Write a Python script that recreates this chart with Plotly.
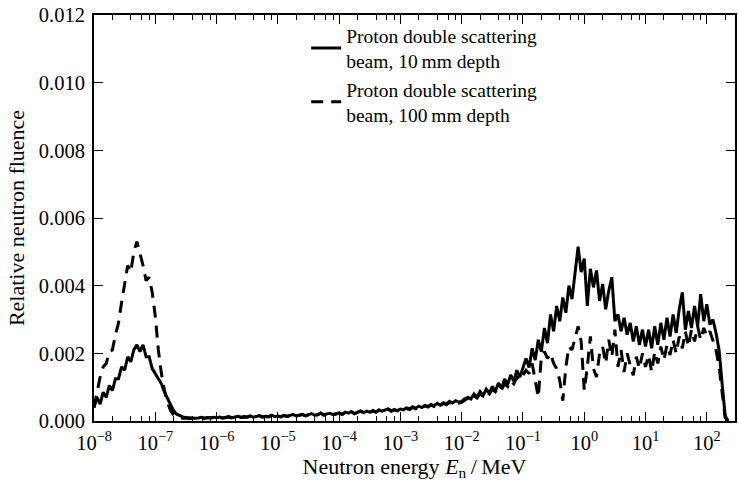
import numpy as np
import plotly.graph_objects as go

# Energy bins: log10(E/MeV) starting value and bin width (lethargy bins)
log_e_start = -8.0
log_e_step = 0.05

# Relative neutron fluence, in units of 1e-4, per bin
fluence_10mm = [
    # 1e-8 .. 1e-7
    4, 7, 5, 8.5, 7, 10.5, 9, 12.5, 12.5, 16, 15, 19, 17.5, 21, 22.5, 20.5, 22.5, 19, 19, 15.5,
    # 1e-7 .. 1e-6
    14, 12.5, 11, 8.5, 6.5, 4.5, 3, 2, 1.5, 1.2, 1.0, 0.9, 1.0, 0.8, 0.9, 1.1, 0.8, 1.0, 0.9, 1.1,
    # 1e-6 .. 1e-5
    1.0, 1.2, 0.9, 1.1, 1.3, 1.0, 1.2, 1.4, 1.1, 1.3, 1.2, 1.5, 1.1, 1.3, 1.6, 1.2, 1.4, 1.3, 1.7, 1.3,
    # 1e-5 .. 1e-4
    1.5, 1.3, 1.7, 1.4, 1.6, 1.9, 1.5, 1.7, 2.0, 1.6, 1.8, 2.2, 1.7, 1.9, 2.4, 1.8, 2.1, 2.3, 1.9, 2.2,
    # 1e-4 .. 1e-3
    2.4, 2.0, 2.6, 2.3, 2.8, 2.2, 2.7, 3.0, 2.5, 2.9, 2.6, 3.1, 2.7, 3.3, 2.9, 3.2, 3.6, 3.0, 3.4, 3.1,
    # 1e-3 .. 1e-2
    3.5, 3.3, 3.9, 3.6, 4.2, 3.8, 4.4, 4.0, 4.6, 4.3, 4.9, 4.5, 5.2, 4.7, 5.4, 5.0, 5.8, 5.3, 6.0, 5.6,
    # 1e-2 .. 1e-1
    5.8, 6.6, 7.0, 6.5, 8.0, 7.0, 8.7, 7.5, 9.4, 8.2, 10.2, 8.8, 11.2, 9.6, 12.4, 10.8, 13.6, 11.8, 15.0, 13.0,
    # 1e-1 .. 1e0
    16.0, 18.5, 15.8, 21.5, 18.0, 24.0, 20.5, 27.5, 23.0, 31.5, 26.5, 34.0, 29.5, 36.5, 32.0, 40.0, 36.0, 44.0, 51.5, 44.0,
    # 1e0 .. 1e1
    48.0, 34.0, 45.0, 39.5, 44.5, 35.5, 40.5, 33.0, 38.5, 42.5, 29.5, 31.5, 26.5, 30.5, 25.5, 29.0, 23.5, 28.0, 22.5, 27.0,
    # 1e1 .. 1e2
    22.0, 27.0, 21.5, 28.0, 22.5, 29.0, 24.0, 30.5, 25.0, 31.5, 26.0, 33.0, 38.0, 27.0, 32.5, 27.5, 34.0, 28.0, 37.5, 29.5,
    # 1e2 ..
    34.5, 28.5, 30.0, 26.0, 21.0, 11.0, 1.5, 0.0,
]

fluence_100mm = [
    # 1e-8 .. 1e-7
    4, 9, 13, 16, 17, 20.5, 21, 25.5, 29, 35, 41, 46, 44, 50, 53, 49.5, 46, 41.5, 42.5, 38,
    # 1e-7 .. 1e-6
    31, 21, 14, 9, 5.5, 3, 1.8, 1.2, 0.9, 0.8, 0.9, 0.7, 0.8, 0.9, 0.7, 1.0, 0.8, 0.9, 1.0, 0.8,
    # 1e-6 .. 1e-5
    0.9, 1.1, 0.8, 1.0, 1.2, 0.9, 1.1, 1.3, 1.0, 1.2, 1.1, 1.4, 1.0, 1.2, 1.5, 1.1, 1.3, 1.2, 1.6, 1.2,
    # 1e-5 .. 1e-4
    1.4, 1.2, 1.6, 1.3, 1.5, 1.8, 1.4, 1.6, 1.9, 1.5, 1.7, 2.1, 1.6, 1.8, 2.3, 1.7, 2.0, 2.2, 1.8, 2.1,
    # 1e-4 .. 1e-3
    2.3, 1.9, 2.5, 2.2, 2.7, 2.1, 2.6, 2.9, 2.4, 2.8, 2.5, 3.0, 2.6, 3.2, 2.8, 3.1, 3.5, 2.9, 3.3, 3.0,
    # 1e-3 .. 1e-2
    3.3, 3.1, 3.7, 3.4, 4.0, 3.6, 4.2, 3.8, 4.4, 4.1, 4.7, 4.3, 5.0, 4.5, 5.2, 4.8, 5.5, 5.1, 5.7, 5.3,
    # 1e-2 .. 1e-1
    5.5, 6.1, 6.8, 6.3, 7.4, 6.8, 8.0, 7.3, 8.6, 8.0, 9.3, 8.6, 10.0, 9.3, 11.0, 10.2, 12.0, 11.0, 13.0, 12.0,
    # 1e-1 .. 1e0
    13.5, 15.0, 14.0, 17.0, 12.0, 7.0, 19.0, 20.5, 18.5, 20.0, 17.0, 15.5, 12.0, 6.0, 16.0, 22.0, 21.0, 24.5, 28.0, 23.5,
    # 1e0 .. 1e1
    9.0, 16.0, 25.0, 15.5, 13.0, 20.0, 22.0, 17.0, 24.0, 19.0, 27.0, 16.0, 21.0, 14.5, 20.0, 16.5, 13.5, 19.0, 15.5, 20.0,
    # 1e1 .. 1e2
    16.0, 19.5, 14.5, 20.5, 17.0, 22.0, 18.0, 22.5, 19.5, 24.0, 20.0, 25.0, 21.5, 26.5, 22.0, 27.0, 23.5, 28.0, 24.0, 27.5,
    # 1e2 ..
    25.0, 26.5, 23.5, 21.0, 16.0, 8.0, 1.0, 0.0,
]

series_names = [
    "Proton double scattering<br>beam, 10\u2009mm depth",
    "Proton double scattering<br>beam, 100\u2009mm depth",
]

x_decades = list(range(-8, 3))
y_ticks = [0.000, 0.002, 0.004, 0.006, 0.008, 0.010, 0.012]

energies = 10 ** (log_e_start + log_e_step * np.arange(len(fluence_10mm)))
y10 = np.array(fluence_10mm) * 1e-4
y100 = np.array(fluence_100mm) * 1e-4

FONT = "Liberation Serif"

fig = go.Figure()
fig.add_trace(go.Scatter(x=energies, y=y10, mode="lines", name=series_names[0],
                         line=dict(color="black", width=3)))
fig.add_trace(go.Scatter(x=energies, y=y100, mode="lines", name=series_names[1],
                         line=dict(color="black", width=3, dash="12px,8px")))

major_vals = [10.0 ** d for d in x_decades]
major_text = ["10<sup>" + str(d).replace("-", "\u2212") + "</sup>" for d in x_decades]
minor_vals = [m * 10.0 ** d for d in x_decades for m in (2, 4, 6, 8)]

fig.update_xaxes(
    type="log", range=[-8, 2.46],
    tickvals=major_vals, ticktext=major_text,
    ticks="inside", ticklen=9, tickwidth=1, tickcolor="black",
    minor=dict(tickvals=minor_vals, ticks="inside", ticklen=5, tickwidth=1, tickcolor="black", showgrid=False),
    showline=True, linewidth=2, linecolor="black", mirror="allticks",
    showgrid=False, zeroline=False,
    tickfont=dict(family=FONT, size=20.5, color="black"),
    ticklabelstandoff=2,
    title=dict(text="Neutron energy <i>E</i><sub>n</sub>\u2009/\u2009MeV",
               font=dict(family=FONT, size=22, color="black"), standoff=4),
)
fig.update_yaxes(
    range=[0, 0.012], tickvals=y_ticks, tickformat=".3f",
    ticks="inside", ticklen=9, tickwidth=1, tickcolor="black",
    showline=True, linewidth=2, linecolor="black", mirror="allticks",
    showgrid=False, zeroline=False,
    tickfont=dict(family=FONT, size=20.5, color="black"),
    ticklabelstandoff=3,
    title=dict(text="Relative neutron fluence",
               font=dict(family=FONT, size=22, color="black"), standoff=8),
)

fig.update_layout(
    width=738, height=483,
    margin=dict(l=94, r=1, t=15, b=62),
    paper_bgcolor="white", plot_bgcolor="white",
    font=dict(family=FONT, color="black"),
    legend=dict(x=0.331, y=0.997, xanchor="left", yanchor="top",
                bgcolor="rgba(0,0,0,0)", borderwidth=0,
                font=dict(family=FONT, size=19.5, color="black"),
                tracegroupgap=0),
)

fig.write_html("out.html")
